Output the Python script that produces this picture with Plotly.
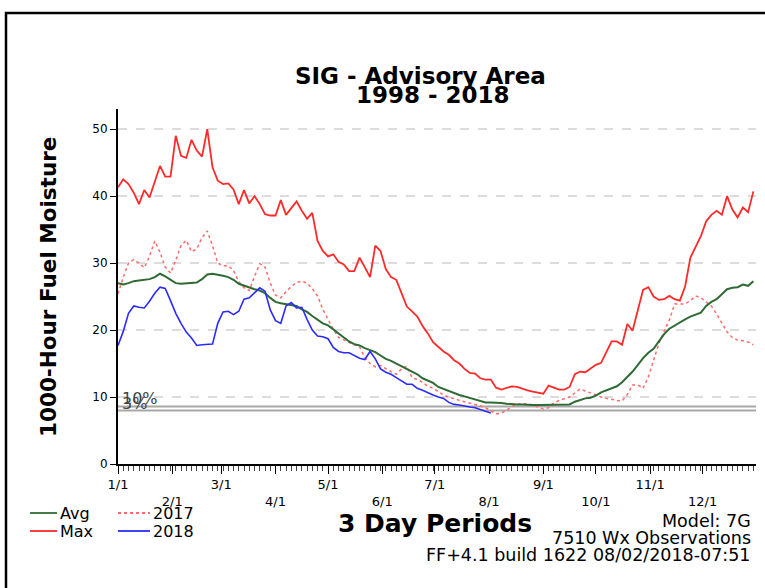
import plotly.graph_objects as go

# ---------------- data (3-day periods, day-of-year of period start) ----------------
periods = list(range(122))
days = [3 * i for i in periods]

max_vals = [41.3, 42.5, 41.8, 40.5, 38.8, 40.9, 39.8, 42.0, 44.5, 42.9,
            42.9, 49.0, 46.0, 45.7, 48.4, 46.8, 45.9, 50.0, 44.3, 42.3,
            41.8, 41.9, 41.0, 38.8, 40.9, 38.9, 40.0, 38.8, 37.3, 37.1,
            37.1, 39.4, 37.2, 38.2, 39.2, 37.8, 36.6, 37.5, 33.3, 31.8,
            31.0, 31.3, 30.2, 29.8, 28.8, 28.8, 30.8, 29.4, 27.9, 32.6,
            31.8, 29.1, 27.9, 27.5, 25.5, 23.5, 22.8, 22.0, 20.6, 19.5,
            18.2, 17.5, 16.8, 16.3, 15.5, 15.0, 14.2, 13.6, 13.5, 12.8,
            12.6, 12.6, 11.4, 11.1, 11.3, 11.6, 11.5, 11.2, 11.0, 10.8,
            10.7, 10.5, 11.7, 11.4, 11.1, 11.1, 11.5, 13.4, 13.8, 13.7,
            14.3, 14.8, 15.1, 16.8, 18.3, 18.3, 17.8, 20.9, 19.9, 23.0,
            26.0, 26.4, 25.0, 24.5, 24.6, 25.1, 24.6, 24.4, 26.5, 30.8,
            32.4, 34.0, 36.2, 37.2, 37.8, 37.2, 40.0, 38.0, 36.8, 38.3,
            37.6, 40.7]

avg_vals = [27.0, 26.8, 27.0, 27.3, 27.4, 27.5, 27.6, 27.9, 28.4, 28.0,
            27.5, 27.0, 26.9, 27.0, 27.1, 27.1, 27.6, 28.3, 28.4, 28.3,
            28.1, 27.9, 27.5, 26.9, 26.6, 26.4, 26.1, 25.9, 25.5, 24.8,
            24.2, 24.0, 23.9, 23.8, 23.6, 23.1, 22.7, 22.1, 21.6, 21.0,
            20.7, 20.1, 19.5, 19.0, 18.3, 17.9, 17.7, 17.3, 17.0, 16.7,
            16.2, 15.7, 15.4, 15.0, 14.6, 14.2, 13.8, 13.4, 12.8, 12.4,
            12.1, 11.5, 11.2, 10.8, 10.6, 10.3, 10.1, 9.9, 9.7, 9.4,
            9.2, 9.2, 9.2, 9.1, 9.0, 8.9, 8.9, 8.9, 8.8, 8.8,
            8.8, 8.8, 8.8, 8.8, 8.8, 8.8, 8.9, 9.3, 9.6, 9.8,
            9.9, 10.2, 10.7, 11.0, 11.3, 11.6, 12.2, 13.0, 13.8, 14.8,
            15.8, 16.6, 17.2, 18.3, 19.4, 20.2, 20.7, 21.2, 21.6, 22.0,
            22.3, 22.6, 23.6, 24.2, 24.6, 25.3, 26.1, 26.3, 26.4, 26.8,
            26.6, 27.3]

y2017 = [25.4, 27.9, 30.0, 30.5, 30.0, 29.3, 31.0, 33.3, 31.6, 29.4,
         28.5, 30.4, 32.6, 33.4, 31.7, 32.1, 33.8, 34.8, 32.6, 30.0,
         29.6, 29.6, 28.9, 27.2, 26.3, 25.9, 28.0, 29.9, 29.4, 27.0,
         25.2, 24.8, 25.7, 26.5, 27.1, 27.3, 27.0, 26.2, 25.1, 23.1,
         21.6, 20.1, 18.9, 18.5, 18.2, 17.8, 17.5, 15.9, 15.0, 14.5,
         14.7, 14.2, 13.8, 13.4, 14.2, 14.6, 12.9, 12.6, 12.2, 11.6,
         11.3, 10.8, 10.3, 10.0, 9.7, 9.5, 9.3, 9.1, 9.0, 8.7,
         8.4, 7.9, 7.5, 7.6, 8.0, 8.6, 8.9, 9.0, 9.0, 8.8,
         8.5, 8.2, 8.4, 9.1, 9.5, 9.7, 10.0, 10.6, 11.2, 10.9,
         10.6, 10.2, 10.0, 9.8, 9.6, 9.5, 9.4, 10.4, 11.8, 11.8,
         11.3, 13.0, 15.5, 18.0, 19.8, 21.5, 23.9, 23.9, 23.9, 24.4,
         25.1, 24.8, 24.2, 23.6, 22.4, 21.0, 19.7, 18.9, 18.5, 18.4,
         18.2, 17.8]

y2018 = [17.7, 19.8, 22.5, 23.6, 23.4, 23.3, 24.3, 25.5, 26.4, 26.2,
         24.4, 22.5, 21.0, 19.7, 18.8, 17.7, 17.8, 17.8, 17.9, 21.0,
         22.7, 22.8, 22.3, 22.8, 24.6, 24.8, 25.6, 26.3, 25.8, 23.0,
         21.4, 21.0, 23.6, 24.1, 23.3, 23.4, 21.6, 20.0, 19.1, 19.0,
         18.7, 17.4, 16.8, 16.6, 16.6, 16.2, 15.8, 15.6, 16.8, 15.7,
         14.2, 13.7, 13.4, 12.9, 12.4, 11.9, 11.9, 11.3, 11.0, 10.6,
         10.3, 10.0, 9.8, 9.2, 8.9, 8.8, 8.6, 8.5, 8.4, 8.1,
         7.9, 7.6]
days2018 = days[:len(y2018)]

month_days = [0, 31, 59, 90, 120, 151, 181, 212, 243, 273, 304, 334]
month_labels = ["1/1", "<br>2/1", "3/1", "<br>4/1", "5/1", "<br>6/1",
                "7/1", "<br>8/1", "9/1", "<br>10/1", "11/1", "<br>12/1"]
y_ticks = [0, 10, 20, 30, 40, 50]

pct_levels = [8.6, 8.0]
pct_labels = ["10%", "3%"]

# ---------------- layout geometry ----------------
W, H = 765, 588
ML, MR, MT, MB = 118, 9, 109, 124
PW, PH = W - ML - MR, H - MT - MB


def px(x):
    return (x - ML) / PW


def py(y):
    return (H - MB - y) / PH


FONT = "DejaVu Sans"
RED = "#ff2a2a"
GREEN = "#2f6a35"
BLUE = "#2b2bff"
RED17 = "#ff6b6b"

fig = go.Figure()
fig.add_trace(go.Scatter(x=days, y=max_vals, mode="lines", name="Max",
                         line=dict(color=RED, width=1.8)))
fig.add_trace(go.Scatter(x=days, y=y2017, mode="lines", name="2017",
                         line=dict(color=RED17, width=1.5, dash="dot")))
fig.add_trace(go.Scatter(x=days, y=avg_vals, mode="lines", name="Avg",
                         line=dict(color=GREEN, width=2)))
fig.add_trace(go.Scatter(x=days2018, y=y2018, mode="lines", name="2018",
                         line=dict(color=BLUE, width=1.6)))

shapes = []
for lv in pct_levels:
    shapes.append(dict(type="line", xref="paper", yref="y", x0=0, x1=1,
                       y0=lv, y1=lv, line=dict(color="#a8a8a8", width=2),
                       layer="below"))

leg = [(30, 57, 513, GREEN, "solid"), (30, 57, 531, RED, "solid"),
       (118, 150, 513, RED17, "dot"), (118, 150, 531, BLUE, "solid")]
for x0, x1, yy, c, d in leg:
    shapes.append(dict(type="line", xref="paper", yref="paper",
                       x0=px(x0), x1=px(x1), y0=py(yy), y1=py(yy),
                       line=dict(color=c, width=1.8, dash=d)))

shapes.append(dict(type="rect", xref="paper", yref="paper",
                   x0=px(6), x1=px(780), y0=py(13), y1=py(600),
                   line=dict(color="black", width=2.5)))

ann = []
ann.append(dict(text="SIG - Advisory Area", x=px(420), y=py(76), xanchor="center",
                yanchor="middle", font=dict(family=FONT, size=23, weight="bold", color="black")))
ann.append(dict(text="1998 - 2018", x=px(433), y=py(95), xanchor="center",
                yanchor="middle", font=dict(family=FONT, size=23, weight="bold", color="black")))
ann.append(dict(text="1000-Hour Fuel Moisture", x=px(48), y=py(287), textangle=-90,
                xanchor="center", yanchor="middle",
                font=dict(family=FONT, size=21.5, weight="bold", color="black")))
ann.append(dict(text="3 Day Periods", x=px(435), y=py(523), xanchor="center",
                yanchor="middle", font=dict(family=FONT, size=25, weight="bold", color="black")))
for t, yy in [("Model: 7G", 521), ("7510 Wx Observations", 538),
              ("FF+4.1 build 1622 08/02/2018-07:51", 555)]:
    ann.append(dict(text=t, x=px(753), y=py(yy), xanchor="right", yanchor="middle",
                    font=dict(family=FONT, size=17.5, color="black")))
for t, x0, yy in [("Avg", 58, 513), ("Max", 58, 531), ("2017", 151, 513), ("2018", 151, 531)]:
    ann.append(dict(text=t, x=px(x0), y=py(yy), xanchor="left", yanchor="middle",
                    font=dict(family=FONT, size=16, color="black")))
ann.append(dict(text=pct_labels[0], x=px(120), y=pct_levels[0], yref="y", xanchor="left",
                yanchor="bottom", yshift=-4,
                font=dict(family=FONT, size=16, color="#444444")))
ann.append(dict(text=pct_labels[1], x=px(120), y=pct_levels[1], yref="y", xanchor="left",
                yanchor="bottom", yshift=-5,
                font=dict(family=FONT, size=16, color="#444444")))
for a in ann:
    a.setdefault("xref", "paper")
    a.setdefault("yref", "paper")
    a["showarrow"] = False

fig.update_layout(
    width=W, height=H,
    margin=dict(l=ML, r=MR, t=MT, b=MB),
    paper_bgcolor="white", plot_bgcolor="white",
    showlegend=False,
    shapes=shapes, annotations=ann,
    font=dict(family=FONT, color="black"),
    xaxis=dict(range=[0, 364.5], tickmode="array", tickvals=month_days,
               ticktext=month_labels, ticks="outside", ticklen=8,
               tickcolor="black", showgrid=False, zeroline=False,
               showline=True, linecolor="black", linewidth=1.5,
               tickfont=dict(family=FONT, size=13, color="black"),
               minor=dict(ticks="outside", ticklen=5, dtick=3, tick0=0,
                          tickcolor="#444", showgrid=False)),
    yaxis=dict(range=[0, 53], tickvals=y_ticks, ticks="outside", ticklen=6,
               tickcolor="black", showgrid=True, gridcolor="#dcdcdc",
               griddash="dash", gridwidth=1.5, zeroline=False,
               showline=True, linecolor="black", linewidth=2,
               tickfont=dict(family=FONT, size=12, color="black")),
)

fig.write_html("out.html", config={"displayModeBar": False},
               post_script="document.body.style.margin='0px';document.body.style.overflow='hidden';")
